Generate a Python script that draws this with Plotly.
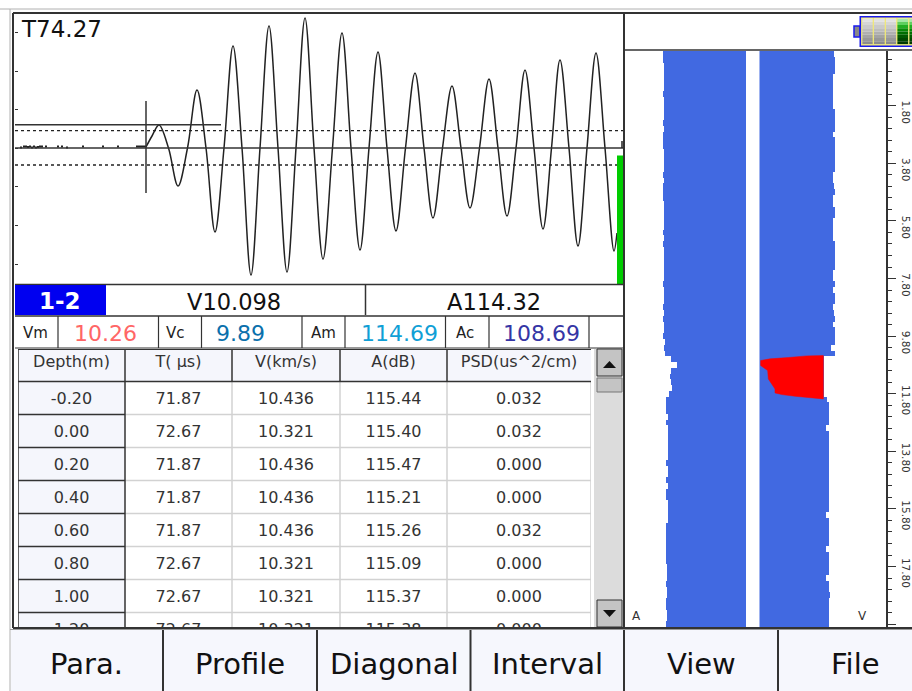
import plotly.graph_objects as go

W, H = 912, 691
FONT = "DejaVu Sans"
DARK = "#333333"

# ---------- waveform (sample index, amplitude) ----------
wave_t = [131,137,144,153.5,163,172.5,182,191,200,209,218,227,236,245,254,263,272,281,290,299,308,317.5,327,336,345,354,363,372,381,390.5,400,409,418,427.5,437,446,455,464.5,474,483,492,501,510,519,528,536.5,545,554,563,572,581,590,599,602]
wave_amp = [1,12,23,0,-38,0,58,0,-84,0,102,0,-127,0,122,0,-124,0,130,0,-111,0,115,0,-102,0,96,0,-83,0,75,0,-70,0,62,0,-60,0,69,0,-68,0,78,0,-81,0,88,0,-98,0,95,0,-103,-85]
noise_t = [6,9,11,13,15,17,19,21,23,25,27,31,43,47,52,68,88,103,122,124,126,128,130]
noise_amp = [0.5,1.5,1.5,1,1.5,0.5,1.5,0.5,1,1.5,1.5,1.5,1.5,1.5,0.5,1.5,1.5,1.5,1.5,1.5,1.5,1.5,1.5]
time_text = "T74.27"

# ---------- summary strip ----------
channel = "1-2"
v_text, a_text = "V10.098", "A114.32"
stat_labels = ["Vm", "Vc", "Am", "Ac"]
stat_values = ["10.26", "9.89", "114.69", "108.69"]
stat_colors = ["#ff6666", "#0a70ac", "#109fd6", "#3535a5"]

# ---------- table ----------
table_head = ["Depth(m)", "T( µs)", "V(km/s)", "A(dB)", "PSD(us^2/cm)"]
table_depth = ["-0.20","0.00","0.20","0.40","0.60","0.80","1.00","1.20"]
table_t = ["71.87","72.67","71.87","71.87","71.87","72.67","72.67","72.67"]
table_v = ["10.436","10.321","10.436","10.436","10.436","10.321","10.321","10.321"]
table_a = ["115.44","115.40","115.47","115.21","115.26","115.09","115.37","115.38"]
table_psd = ["0.032","0.032","0.000","0.000","0.032","0.000","0.000","0.000"]

# ---------- depth profile ----------
profile_depth = [0.0,0.2,0.4,0.6,0.8,1.0,1.2,1.4,1.6,1.8,2.0,2.2,2.4,2.6,2.8,3.0,3.2,3.4,3.6,3.8,
 4.0,4.2,4.4,4.6,4.8,5.0,5.2,5.4,5.6,5.8,6.0,6.2,6.4,6.6,6.8,7.0,7.2,7.4,7.6,7.8,
 8.0,8.2,8.4,8.6,8.8,9.0,9.2,9.4,9.6,9.8,10.0,10.2,10.4,10.6,10.8,11.0,11.2,11.4,11.6,11.8,
 12.0,12.2,12.4,12.6,12.8,13.0,13.2,13.4,13.6,13.8,14.0,14.2,14.4,14.6,14.8,15.0,15.2,15.4,15.6,15.8,
 16.0,16.2,16.4,16.6,16.8,17.0,17.2,17.4,17.6,17.8,18.0,18.2,18.4,18.6,18.8,19.0,19.2,19.4,19.6,19.8]
profile_a = [115.40,115.47,115.21,115.26,115.09,115.13,115.15,115.57,115.12,115.13,115.14,115.12,115.57,115.13,115.55,115.57,115.56,115.13,115.12,115.14,
 115.13,115.57,115.12,115.56,115.57,115.55,115.13,115.14,115.12,115.13,115.12,115.57,115.13,115.57,115.12,115.14,115.13,115.12,115.13,115.14,
 115.57,115.12,115.13,115.14,115.57,115.13,115.57,115.12,115.13,115.55,114.90,115.12,114.90,112.90,110.90,112.90,113.12,113.00,112.68,113.40,
 114.45,114.45,114.45,114.01,114.57,114.01,114.02,114.00,114.01,114.02,114.01,114.57,114.01,114.02,114.57,114.01,114.57,114.57,114.01,114.02,
 114.01,114.00,114.57,114.56,114.57,114.57,114.56,114.57,114.57,114.12,114.13,114.12,114.57,114.12,114.13,114.57,114.56,114.12,114.13,114.57]
profile_v = [10.38,10.436,10.436,10.436,10.321,10.321,10.321,10.321,10.321,10.321,10.436,10.436,10.436,10.436,10.321,10.436,10.436,10.436,10.436,10.436,
 10.436,10.321,10.321,10.38,10.436,10.321,10.321,10.436,10.436,10.321,10.321,10.321,10.321,10.436,10.436,10.436,10.436,10.436,10.321,10.321,
 10.436,10.321,10.436,10.436,10.321,10.38,10.436,10.321,10.436,10.436,10.436,10.21,10.436,9.90,9.90,9.90,9.90,9.90,9.90,9.90,
 10.04,10.117,10.117,10.117,10.117,9.994,10.117,10.117,10.117,10.117,10.117,10.117,10.117,10.117,10.117,10.117,10.117,10.117,10.117,10.117,
 9.994,10.117,10.117,10.117,10.117,10.117,9.994,10.117,10.117,10.117,10.117,9.994,10.117,10.117,10.178,10.117,10.117,10.117,10.117,10.117]
defect_v = [7.014,7.444,8.289,9.134,9.902,9.902,8.596,7.982,7.674,7.674,7.367,7.336,7.014,7.014]
defect_depth = [10.648,10.59,10.543,10.486,10.474,11.981,11.888,11.83,11.772,11.633,11.286,10.996,10.822,10.648]

depth_ticks = [1.8,3.8,5.8,7.8,9.8,11.8,13.8,15.8,17.8,19.8]
depth_tick_text = ["1.80","3.80","5.80","7.80","9.80","11.80","13.80","15.80","17.80",""]
buttons = ["Para.", "Profile", "Diagonal", "Interval", "View", "File"]


def X(p):
    return p / W


def Y(p):
    return 1 - p / H


def dom_x(a, b):
    return [X(a), X(b)]


def dom_y(top, bottom):
    return [Y(bottom), Y(top)]


shapes, notes = [], []


def rect(x0, y0, x1, y1, fill, line=None, lw=0, layer="above"):
    shapes.append(dict(type="rect", xref="paper", yref="paper", x0=X(x0), x1=X(x1), y0=Y(y0), y1=Y(y1),
                       fillcolor=fill, line=dict(color=line or fill, width=lw), layer=layer))


def seg(x0, y0, x1, y1, color=DARK, lw=1.5, dash="solid", layer="above"):
    shapes.append(dict(type="line", xref="paper", yref="paper", x0=X(x0), x1=X(x1), y0=Y(y0), y1=Y(y1),
                       line=dict(color=color, width=lw, dash=dash), layer=layer))


def label(x, y, text, size, color="#111111", bold=False, anchor="center"):
    notes.append(dict(xref="paper", yref="paper", x=X(x), y=Y(y), text=f"<b>{text}</b>" if bold else text,
                      showarrow=False, xanchor=anchor, yanchor="middle",
                      font=dict(family=FONT, size=size, color=color)))


fig = go.Figure()

# waveform panel
fig.add_trace(go.Scatter(x=wave_t, y=wave_amp, mode="lines", xaxis="x", yaxis="y", hoverinfo="skip",
                         line=dict(color="#222222", width=1.5, shape="spline", smoothing=1)))
fig.add_trace(go.Scatter(x=noise_t, y=noise_amp, mode="markers", xaxis="x", yaxis="y", hoverinfo="skip",
                         marker=dict(color="#222222", size=2, symbol="square")))

# profile panels
fig.add_trace(go.Bar(y=profile_depth, x=profile_a, orientation="h", width=0.2, xaxis="x2", yaxis="y2",
                     marker=dict(color="#4169e1", line=dict(width=0)), hoverinfo="skip"))
fig.add_trace(go.Bar(y=profile_depth, x=profile_v, orientation="h", width=0.2, xaxis="x3", yaxis="y3",
                     marker=dict(color="#4169e1", line=dict(width=0)), hoverinfo="skip"))
fig.add_trace(go.Scatter(x=defect_v, y=defect_depth, mode="lines", fill="toself", fillcolor="#ff0000",
                         line=dict(color="#ff0000", width=0.5), xaxis="x3", yaxis="y3", hoverinfo="skip"))

# table panel
col_widths = [107, 107, 108, 107, 144]
edges = [0]
for w in col_widths:
    edges.append(edges[-1] + w)
columns = [table_depth, table_t, table_v, table_a, table_psd]
text_rows = [r + 0.05 for r in range(len(table_depth))]
for i, col in enumerate(columns):
    cx = (edges[i] + edges[i + 1]) / 2
    fig.add_trace(go.Scatter(x=[cx] * len(col), y=text_rows, text=col, mode="text", textposition="middle center",
                             xaxis="x4", yaxis="y4", hoverinfo="skip", cliponaxis=True,
                             textfont=dict(family=FONT, size=16, color="#333333")))
fig.add_trace(go.Scatter(x=[(edges[i] + edges[i + 1]) / 2 for i in range(5)], y=[-1.07] * 5, text=table_head,
                         mode="text", textposition="middle center", xaxis="x4", yaxis="y4", hoverinfo="skip",
                         textfont=dict(family=FONT, size=16, color="#333333")))


def tshape(kind, x0, x1, y0, y1, color, lw=1.5, fill=None):
    d = dict(type=kind, xref="x4", yref="y4", x0=x0, x1=x1, y0=y0, y1=y1, layer="below",
             line=dict(color=color, width=lw))
    if fill:
        d["fillcolor"] = fill
    shapes.append(d)


HEAD = "#f5f6fc"
tshape("rect", 0, edges[-1], -1.6, -0.5, HEAD, 0, HEAD)
tshape("rect", 0, edges[1], -0.5, 8, HEAD, 0, HEAD)
for r in range(0, 8):
    tshape("line", edges[1], edges[-1], r + 0.5, r + 0.5, "#d2d2d2", 1.5)
    tshape("line", 0, edges[1], r + 0.5, r + 0.5, DARK, 1.5)
for e in edges[2:]:
    tshape("line", e, e, -0.5, 8, "#d2d2d2", 1.5)
tshape("line", edges[1], edges[1], -1.6, 8, DARK, 1.5)
for e in edges[2:5]:
    tshape("line", e, e, -1.6, -0.5, DARK, 1.5)
tshape("line", 0, edges[-1], -0.5, -0.5, DARK, 1.5)
tshape("line", 0, edges[-1], -1.48, -1.48, DARK, 1.5)
tshape("line", 0, 0, -1.6, 8, DARK, 1.5)

# waveform overlays
for val in (17.3, -17):
    shapes.append(dict(type="line", xref="x", yref="y", x0=0, x1=609, y0=val, y1=val, layer="above",
                       line=dict(color="#222222", width=1.3, dash="3px,3px")))
shapes.append(dict(type="line", xref="x", yref="y", x0=0, x1=609, y0=0, y1=0, layer="above",
                   line=dict(color="#333333", width=1.5)))
shapes.append(dict(type="line", xref="x", yref="y", x0=0, x1=206, y0=23.3, y1=23.3, layer="above",
                   line=dict(color="#333333", width=1.5)))
shapes.append(dict(type="line", xref="x", yref="y", x0=131, x1=131, y0=47, y1=-45, layer="above",
                   line=dict(color="#333333", width=1.5)))
shapes.append(dict(type="line", xref="x", yref="y", x0=607, x1=607, y0=7, y1=0, layer="above",
                   line=dict(color="#222222", width=1.5)))
shapes.append(dict(type="rect", xref="x", yref="y", x0=602, x1=608.5, y0=-7.5, y1=-136, layer="above",
                   fillcolor="#00cc00", line=dict(width=0)))

# frame
seg(0, 9, W, 9, "#b0b0b0", 1)
seg(10, 9, 10, 691, "#b0b0b0", 1)
seg(13, 13, W, 13, DARK, 2)
seg(13, 13, 13, 628, DARK, 2)
seg(624, 13, 624, 628, DARK, 2)
seg(624, 50, W, 50, DARK, 1.5)
seg(15, 284.5, 624, 284.5, DARK, 1.5)
seg(15, 316, 624, 316, DARK, 1.5)
seg(15, 348, 624, 348, DARK, 1)
seg(13, 628, W, 628, DARK, 2)

# strip
rect(15, 285, 106, 315, "#0000f0")
label(60, 301, channel, 23, "white", bold=True)
label(234.5, 301.5, v_text, 22.5)
label(494, 301.5, a_text, 22.5)
seg(365.5, 285, 365.5, 315, DARK, 1.5)
for px in (58, 158.5, 201.5, 302, 345, 445.5, 489, 589):
    seg(px, 316, px, 348, DARK, 1.2)
for px, txt in zip((35, 175.5, 323.5, 465), stat_labels):
    label(px, 333, txt, 15, "#222222")
for px, txt, col in zip((105, 240, 399, 541), stat_values, stat_colors):
    label(px, 333.5, txt, 22, col)

# scrollbar
rect(594, 349, 623, 627, "#dcdcdc", layer="above")
rect(597, 349, 622, 376, "#c4c4c4", DARK, 1)
rect(597, 378, 622, 392, "#c4c4c4", "#777777", 1)
rect(597, 600, 622, 627, "#c4c4c4", DARK, 1)
shapes.append(dict(type="path", xref="paper", yref="paper", fillcolor="#111111", line=dict(width=0), layer="above",
                   path=f"M {X(603)} {Y(368)} L {X(616)} {Y(368)} L {X(609.5)} {Y(361)} Z"))
shapes.append(dict(type="path", xref="paper", yref="paper", fillcolor="#111111", line=dict(width=0), layer="above",
                   path=f"M {X(603)} {Y(610)} L {X(616)} {Y(610)} L {X(609.5)} {Y(617)} Z"))

# bottom buttons
rect(11, 629, W, 691, "#f6f7fd", layer="below")
seg(10, 629.5, W, 629.5, "#999999", 1)
for px in (163, 317, 470.5, 624, 778):
    seg(px, 630, px, 691, "#333333", 2)
for cx, txt in zip((86, 240, 394, 547, 701, 855), buttons):
    label(cx, 664, txt, 29, "#111111")

# battery
rect(854, 26, 860, 37, "#888888", "#1a1aee", 1.5)
rect(860.5, 17, 914, 46, "#ffffff", "#1a1aee", 2)
grays = ["#e2e2e2", "#d6d6d6", "#cacaca", "#bdbdbd", "#b0b0b0", "#a4a4a4", "#989898", "#8c8c8c"]
greens = ["#a8e8a8", "#5fcf5f", "#22ad22", "#088a08", "#007000", "#005a00", "#004800", "#003a00"]
steps = 8
for idx, (a, b, pal) in enumerate(((862, 873, grays), (873.5, 885, grays), (885.5, 896.5, grays),
                                   (897, 908.5, greens), (909, 914, greens))):
    for s in range(steps):
        rect(a, 18.5 + s * 3.25, b, 18.5 + (s + 1) * 3.25, pal[s])
    seg(a - 0.2, 18, a - 0.2, 45, "#f0e870", 1.2)
seg(861, 18, 914, 18, "#f0e870", 1.2)
seg(861, 44.8, 914, 44.8, "#f0e870", 1.2)

label(19, 29, time_text, 23, "#111111", anchor="left")
label(636, 616, "A", 12, "#333333")
label(862, 616, "V", 12, "#333333")

hidden = dict(visible=False, fixedrange=True, automargin=False)
fig.update_layout(
    template="none",
    width=W, height=H, autosize=False, showlegend=False,
    margin=dict(l=0, r=0, t=0, b=0, pad=0, autoexpand=False), paper_bgcolor="white", plot_bgcolor="white",
    bargap=0,
    xaxis=dict(domain=dom_x(15, 624), range=[0, 609], anchor="y", **hidden),
    yaxis=dict(domain=dom_y(14, 284), range=[-136, 134], anchor="x", side="left", showgrid=False, zeroline=False,
               showline=False, ticks="inside", ticklen=3, tickcolor=DARK, tickvals=[116, 77, 39, 0, -38, -77, -116],
               showticklabels=False, fixedrange=True, automargin=False),
    xaxis2=dict(domain=dom_x(625, 746), range=[128.2, 87.9], anchor="y2", **hidden),
    yaxis2=dict(domain=dom_y(51, 627), range=[19.9, -0.1], anchor="x2", **hidden),
    xaxis3=dict(domain=dom_x(759.5, 886), range=[6.96, 12.79], anchor="y3", **hidden),
    yaxis3=dict(domain=dom_y(51, 627), range=[19.9, -0.1], anchor="x3", side="right", showgrid=False,
                zeroline=False, showline=True, linecolor=DARK, linewidth=1.5, ticks="outside", ticklen=8,
                tickwidth=1, tickcolor=DARK, tickmode="array", tickvals=depth_ticks, ticktext=depth_tick_text,
                tickangle=90, ticklabelstandoff=2, ticklabelshift=-8, automargin=False,
                tickfont=dict(family=FONT, size=10.5, color="#333333"),
                minor=dict(ticks="outside", tick0=0.2, dtick=0.4, ticklen=4.5, tickcolor=DARK, tickwidth=1),
                fixedrange=True),
    xaxis4=dict(domain=dom_x(18, 591), range=[0, 573], anchor="y4", **hidden),
    yaxis4=dict(domain=dom_y(349, 627), range=[6.94, -1.485], anchor="x4", **hidden),
    shapes=shapes, annotations=notes,
)

fig.write_html("out.html", config={"displayModeBar": False},
               post_script="document.body.style.margin='0';document.body.style.overflow='hidden';")
